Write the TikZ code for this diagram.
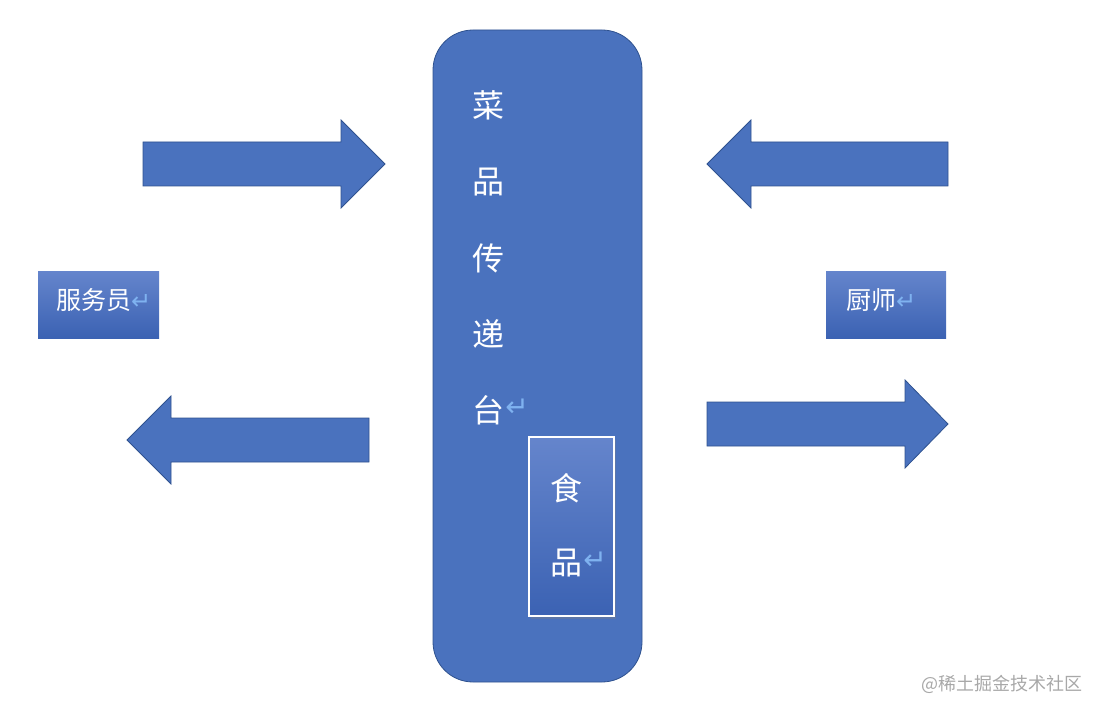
\documentclass[tikz,border=0pt]{standalone}
\usepackage{fontspec}
\newfontfamily\cjk{Noto Sans CJK SC}
\newfontfamily\djv{DejaVu Sans}
\usetikzlibrary{shadows}
\definecolor{mainblue}{HTML}{4A72BE}
\definecolor{edgeblue}{HTML}{2F528F}
\definecolor{gtop}{HTML}{6585CC}
\definecolor{gbot}{HTML}{3B62B3}
\definecolor{retblue}{HTML}{7FB2F0}
\definecolor{wmgray}{HTML}{A8A8A8}
\tikzset{
  blockarrow/.style={fill=mainblue, draw=edgeblue, line width=0.8pt, line join=miter},
  gradbox/.style={top color=gtop, bottom color=gbot, draw=none, inner sep=0pt},
  bigchar/.style={text=white, font=\cjk\fontsize{32}{32}\selectfont, inner sep=0pt},
  midchar/.style={text=white, font=\cjk\fontsize{25}{25}\selectfont, inner sep=0pt, anchor=west},
  retsym/.style={text=retblue, font=\djv\fontsize{28}{28}\selectfont, inner sep=0pt},
}
\newcommand{\ret}{{\color{retblue}\djv\fontsize{24}{24}\selectfont ↵}}
\begin{document}
\begin{tikzpicture}[x=1pt,y=-1pt]
\useasboundingbox (0,0) rectangle (1102,714);
% central board
\node[draw=edgeblue, fill=mainblue, line width=0.8pt, rounded corners=40pt, minimum width=209pt, minimum height=652pt, inner sep=0pt] (board) at (537.5,356) {};
\node[bigchar] (c1) at (488,105) {菜};
\node[bigchar] (c2) at (488,182) {品};
\node[bigchar] (c3) at (488,258) {传};
\node[bigchar] (c4) at (488,334) {递};
\node[bigchar] (c5) at (488,410) {台};
\node[retsym] (r5) at (517,408) {↵};
% food box
\node[gradbox, draw=white, line width=2pt, minimum width=85pt, minimum height=179pt,
      drop shadow={opacity=0.35, shadow xshift=2pt, shadow yshift=-3pt}] (food) at (571.5,526.5) {};
\node[bigchar] (f1) at (566,488) {食};
\node[bigchar] (f2) at (566,563) {品};
\node[retsym] (r6) at (595,561) {↵};
% side boxes
\node[gradbox, minimum width=121pt, minimum height=67pt] (waiter) at (98.5,304.5) {};
\node[midchar] (wt) at (56,300) {服务员\ret};
\node[gradbox, minimum width=120pt, minimum height=67pt] (chef) at (886,304.5) {};
\node[midchar] (ct) at (846,300) {厨师\ret};
% arrows
\draw[blockarrow] (143,142) -- (341,142) -- (341,120) -- (385,164) -- (341,208) -- (341,186) -- (143,186) -- cycle;
\draw[blockarrow] (948,142) -- (751,142) -- (751,120) -- (707,164) -- (751,208) -- (751,186) -- (948,186) -- cycle;
\draw[blockarrow] (369,418) -- (171,418) -- (171,396) -- (127,440) -- (171,484) -- (171,462) -- (369,462) -- cycle;
\draw[blockarrow] (707,402) -- (905,402) -- (905,380) -- (948,424) -- (905,468) -- (905,446) -- (707,446) -- cycle;
% watermark
\node[text=wmgray, font=\cjk\fontsize{18}{18}\selectfont, inner sep=0pt, anchor=east] (wm) at (1083,684) {@稀土掘金技术社区};
\end{tikzpicture}
\end{document}
